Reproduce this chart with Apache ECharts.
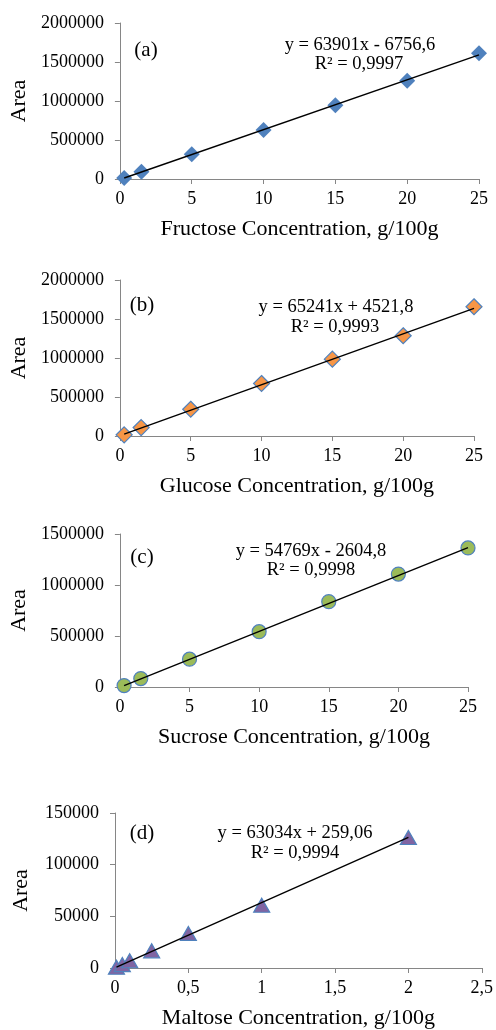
<!DOCTYPE html>
<html>
<head>
<meta charset="utf-8">
<script src="https://cdn.jsdelivr.net/npm/echarts@6/dist/echarts.min.js"></script>
<style>
html,body{margin:0;padding:0;background:#fff;}
#chart{width:496px;height:1030px;}
</style>
</head>
<body>
<div id="chart"></div>
<script>
// ---- data ----
const fructoseX = [0.3, 1.5, 5, 10, 15, 20, 25];
const fructoseY = [12000, 94000, 317000, 628000, 945000, 1260000, 1611000];
const glucoseX = [0.3, 1.5, 5, 10, 15, 20, 25];
const glucoseY = [15000, 108000, 343000, 673000, 985000, 1285000, 1657000];
const sucroseX = [0.3, 1.5, 5, 10, 15, 20, 25];
const sucroseY = [14000, 83000, 273000, 542000, 837000, 1107000, 1363000];
const maltoseX = [0.01, 0.05, 0.1, 0.25, 0.5, 1, 2];
const maltoseY = [700, 3300, 7000, 16600, 33500, 60700, 126300];

const slopes = [63901, 65241, 54769, 63034];
const intercepts = [-6756.6, 4521.8, -2604.8, 259.06];
const equations = ['y = 63901x - 6756,6', 'y = 65241x + 4521,8', 'y = 54769x - 2604,8', 'y = 63034x + 259,06'];
const r2Labels = ['R² = 0,9997', 'R² = 0,9993', 'R² = 0,9998', 'R² = 0,9994'];
const panelLabels = ['(a)', '(b)', '(c)', '(d)'];
const xTitles = ['Fructose Concentration, g/100g', 'Glucose Concentration, g/100g', 'Sucrose Concentration, g/100g', 'Maltose Concentration, g/100g'];
const yTitle = 'Area';
const xMax = [25, 25, 25, 2.5];
const xInterval = [5, 5, 5, 0.5];
const yMax = [2000000, 2000000, 1500000, 150000];
const yInterval = [500000, 500000, 500000, 50000];

// ---- layout/style ----
const FONT = 'Liberation Serif, Times New Roman, serif';
const grids = [
  {left: 119, top: 23, width: 360, height: 156},
  {left: 114, top: 280, width: 360, height: 156},
  {left: 116, top: 534, width: 352, height: 153},
  {left: 115, top: 813, width: 367, height: 156}
];
const markers = [
  {symbol: 'diamond', size: 16, color: '#4F81BD', border: '#4F81BD', bw: 0},
  {symbol: 'diamond', size: 16, color: '#F79646', border: '#4F81BD', bw: 1.2},
  {symbol: 'circle', size: 14, color: '#9BBB59', border: '#4F81BD', bw: 1.2},
  {symbol: 'triangle', size: [16, 14], color: '#8064A2', border: '#4F81BD', bw: 1.2}
];
const textPos = [
  {lab: [146, 50], eq: [360, 45], r2: [359, 64]},
  {lab: [142, 305], eq: [336, 307], r2: [335, 327]},
  {lab: [142, 557], eq: [311, 551], r2: [311, 570]},
  {lab: [142, 833], eq: [295, 833], r2: [295, 853]}
];

const xs = [fructoseX, glucoseX, sucroseX, maltoseX];
const ys = [fructoseY, glucoseY, sucroseY, maltoseY];

const axisLineStyle = {color: '#868686', width: 1};
function fmtComma(v) { return String(v).replace('.', ','); }
function fmtPlain(v) { return String(v); }

const xAxes = [], yAxes = [], series = [], graphics = [];
for (let i = 0; i < 4; i++) {
  xAxes.push({
    type: 'value', gridIndex: i, min: 0, max: xMax[i], interval: xInterval[i],
    axisLine: {show: true, lineStyle: axisLineStyle},
    axisTick: {show: true, length: 5, lineStyle: axisLineStyle},
    splitLine: {show: false},
    axisLabel: {fontFamily: FONT, fontSize: 18, color: '#000', margin: 11, formatter: fmtComma},
    name: xTitles[i], nameLocation: 'middle', nameGap: 39,
    nameTextStyle: {fontFamily: FONT, fontSize: 22, color: '#000'}
  });
  yAxes.push({
    type: 'value', gridIndex: i, min: 0, max: yMax[i], interval: yInterval[i],
    axisLine: {show: true, lineStyle: axisLineStyle},
    axisTick: {show: true, length: 5, lineStyle: axisLineStyle},
    splitLine: {show: false},
    axisLabel: {fontFamily: FONT, fontSize: 18, color: '#000', margin: 16, formatter: fmtPlain},
    name: yTitle, nameLocation: 'middle', nameGap: 83, nameRotate: 90,
    nameTextStyle: {fontFamily: FONT, fontSize: 22, color: '#000'}
  });
  const m = markers[i];
  series.push({
    type: 'scatter', xAxisIndex: i, yAxisIndex: i,
    data: xs[i].map((x, k) => [x, ys[i][k]]),
    symbol: m.symbol, symbolSize: m.size,
    itemStyle: {color: m.color, borderColor: m.border, borderWidth: m.bw, opacity: 1},
    z: 2
  });
  const x0 = Math.min(...xs[i]), x1 = Math.max(...xs[i]);
  series.push({
    type: 'line', xAxisIndex: i, yAxisIndex: i,
    data: [[x0, slopes[i] * x0 + intercepts[i]], [x1, slopes[i] * x1 + intercepts[i]]],
    symbol: 'none', lineStyle: {color: '#000', width: 1.4}, z: 3, silent: true
  });
  const tp = textPos[i];
  graphics.push({type: 'text', x: tp.lab[0], y: tp.lab[1], style: {text: panelLabels[i], font: '21px ' + FONT, fill: '#000', align: 'center', verticalAlign: 'middle'}});
  graphics.push({type: 'text', x: tp.eq[0], y: tp.eq[1], style: {text: equations[i], font: '18.5px ' + FONT, fill: '#000', align: 'center', verticalAlign: 'middle'}});
  graphics.push({type: 'text', x: tp.r2[0], y: tp.r2[1], style: {text: r2Labels[i], font: '18.5px ' + FONT, fill: '#000', align: 'center', verticalAlign: 'middle'}});
}

const chart = echarts.init(document.getElementById('chart'), null, {renderer: 'canvas'});
chart.setOption({
  animation: false,
  backgroundColor: '#fff',
  grid: grids,
  xAxis: xAxes,
  yAxis: yAxes,
  series: series,
  graphic: graphics
});
</script>
</body>
</html>
